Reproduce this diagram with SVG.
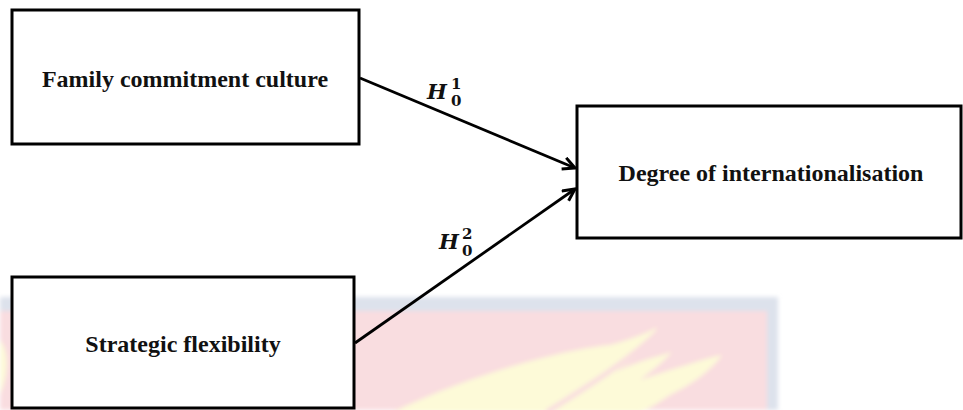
<svg xmlns="http://www.w3.org/2000/svg" width="963" height="410" viewBox="0 0 963 410">
<style>
.box{fill:#fff;stroke:#000;stroke-width:3}
.lbl{font-family:"Liberation Serif","Times New Roman",serif;font-weight:bold;font-size:24px;fill:#111;text-anchor:middle}
.conn{stroke:#000;stroke-width:2.8;fill:none}
.hm{font-family:"DejaVu Serif",serif;font-weight:bold;font-style:italic;font-size:21px;fill:#111}
.dg{font-family:"DejaVu Serif",serif;font-weight:bold;font-size:15px;fill:#111}
</style>
<defs>
<marker id="arr" markerUnits="userSpaceOnUse" markerWidth="16" markerHeight="16" refX="13" refY="7" orient="auto">
<path d="M1,1 L13,7 L1,13" fill="none" stroke="#000" stroke-width="3"/>
</marker>
<filter id="blur"><feGaussianBlur stdDeviation="2"/></filter>
</defs>
<rect width="963" height="410" fill="#fff"/>
<g id="watermark" filter="url(#blur)">
<rect x="0" y="297" width="778" height="113" fill="#dde2ec"/>
<rect x="0" y="311" width="767" height="99" fill="#f9dde0"/>
<path d="M393,412 C470,375 560,350 610,345 C635,338 650,332 657,327 C650,345 630,360 615,372 C640,360 660,356 672,352 C660,365 650,372 640,380 C670,370 700,360 722,355 C710,372 690,385 670,395 C660,402 650,408 640,412 Z" fill="#fdfad8"/>
<path d="M547,412 C590,385 630,360 660,330" stroke="#f9dde0" stroke-width="5" fill="none"/>
<path d="M0,340 C8,350 10,370 0,395 Z" fill="#fdfad8"/>
</g>
<g id="connectors">
<line class="conn" x1="360" y1="78" x2="575" y2="168" marker-end="url(#arr)"/>
<line class="conn" x1="355" y1="343" x2="575" y2="189" marker-end="url(#arr)"/>
<text class="hm" x="427" y="99">H</text>
<text class="dg" x="451" y="89">1</text>
<text class="dg" x="451" y="106">0</text>
<text class="hm" x="439" y="249">H</text>
<text class="dg" x="462" y="239">2</text>
<text class="dg" x="462" y="256">0</text>
</g>
<g id="node-family">
<rect class="box" x="12" y="10" width="347" height="134"/>
<text class="lbl" x="185" y="87">Family commitment culture</text>
</g>
<g id="node-degree">
<rect class="box" x="577" y="106" width="384" height="132"/>
<text class="lbl" x="771" y="181">Degree of internationalisation</text>
</g>
<g id="node-strategic">
<rect class="box" x="12" y="277" width="342" height="131"/>
<text class="lbl" x="183" y="352">Strategic flexibility</text>
</g>
</svg>
